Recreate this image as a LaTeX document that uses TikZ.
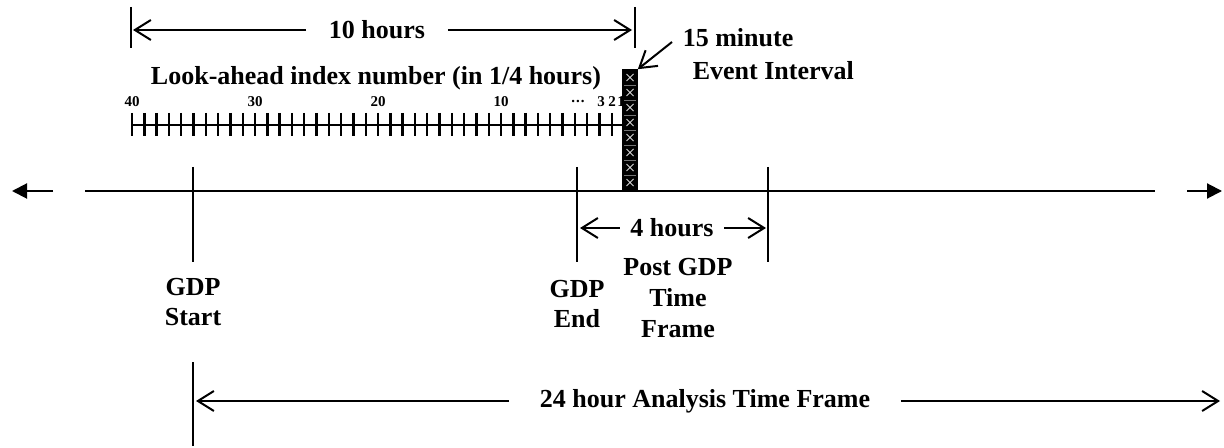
\documentclass[tikz,border=0pt]{standalone}
\usepackage{fontspec}
\setmainfont{Liberation Serif}
\usetikzlibrary{arrows.meta, positioning}

\begin{document}
\begin{tikzpicture}[
  x=0.5pt, y=-0.5pt,
  font=\fontsize{13}{15.3}\selectfont\bfseries,
  line width=0.8pt,
  lbl/.style={inner sep=0pt, align=center},
  dim/.style={-{Straight Barb[length=8pt,width=10pt,line width=1pt]}, line width=1pt},
  axis/.style={-{Triangle[length=7.5pt,width=7.5pt]}, line width=1pt},
  tick/.style={line width=1.2pt},
  bar/.style={line width=0.8pt},
  idx/.style={font=\fontsize{7.5}{8}\selectfont\bfseries, inner sep=0pt},
  evbox/.style={fill=black, draw=black, inner sep=0pt,
                minimum width=7pt, minimum height=60pt}
]
  \useasboundingbox (0,0) rectangle (1224,448);

  %--- main time axis ---
  \coordinate (axL) at (85,191);
  \coordinate (axR) at (1155,191);
  \coordinate (arL) at (53,191);   \coordinate (arLtip) at (12,191);
  \coordinate (arR) at (1187,191); \coordinate (arRtip) at (1222,191);
  \draw[line width=1pt] (axL) -- (axR);
  \draw[axis] (arL) -- (arLtip);
  \draw[axis] (arR) -- (arRtip);

  %--- event interval box ---
  \node[evbox] (box) at (630,130) {};
  \foreach \i in {1,...,7}
    \draw[black!55, line width=0.3pt] (624,70+15*\i) -- (636,70+15*\i);
  \foreach \i in {0,...,7}
    \draw[gray!35, line width=0.4pt]
      (626.5,74+15*\i) -- (633.5,81+15*\i)
      (626.5,81+15*\i) -- (633.5,74+15*\i);

  %--- look-ahead ruler ---
  \node[lbl] (look) at (376,78) {Look-ahead index number (in 1/4 hours)};
  \coordinate (rs) at (132,125);
  \draw[tick] (rs) -- (box.west |- rs);
  \foreach \i in {0,...,39}
    \draw[tick] (132+12.3*\i,113) -- (132+12.3*\i,136);
  \node[idx] (n40) at (132,102) {40};
  \node[idx] (n30) at (255,102) {30};
  \node[idx] (n20) at (378,102) {20};
  \node[idx] (n10) at (501,102) {10};
  \node[idx] (ndots) at (578,102) {.\kern0.5pt.\kern0.5pt.};
  \node[idx] (n3) at (601,102) {3};
  \node[idx] (n2) at (612,102) {2};
  \node[idx] (n1) at (621,102) {1};

  %--- 10 hours ---
  \draw[bar] (131,7) -- (131,48);
  \draw[bar] (635,7) -- (635,48);
  \coordinate (tenL) at (133,30);
  \coordinate (tenR) at (632,30);
  \node[lbl, inner xsep=11pt] (ten) at (377,30) {10 hours};
  \draw[dim] (ten.west) -- (tenL);
  \draw[dim] (ten.east) -- (tenR);

  %--- 15 minute event interval ---
  \node[lbl, align=left, anchor=west, font=\fontsize{13}{16.5}\selectfont\bfseries]
    (ev) at (682,54) {15 minute\\\hspace{5pt}Event Interval};
  \coordinate (evtail) at (672,42);
  \draw[dim] (evtail) -- (box.north east);

  %--- GDP markers ---
  \draw[bar] (193,167) -- (193,262);
  \draw[bar] (577,167) -- (577,262);
  \draw[bar] (768,167) -- (768,262);
  \node[lbl] (gdpS) at (193,302) {GDP\\Start};
  \node[lbl] (gdpE) at (577,304) {GDP\\End};
  \node[lbl] (post) at (678,298) {Post GDP\\Time\\Frame};

  %--- 4 hours ---
  \coordinate (fourL) at (580,228);
  \coordinate (fourR) at (766,228);
  \node[lbl, inner xsep=5pt] (four) at (672,228) {4 hours};
  \draw[dim] (four.west) -- (fourL);
  \draw[dim] (four.east) -- (fourR);

  %--- 24 hour frame ---
  \draw[bar] (193,362) -- (193,446);
  \coordinate (dayL) at (196,401);
  \coordinate (dayR) at (1220,401);
  \node[lbl, inner xsep=15pt] (day) at (705,401) {24 hour Analysis Time Frame};
  \draw[dim] (day.west) -- (dayL);
  \draw[dim] (day.east) -- (dayR);
\end{tikzpicture}
\end{document}
